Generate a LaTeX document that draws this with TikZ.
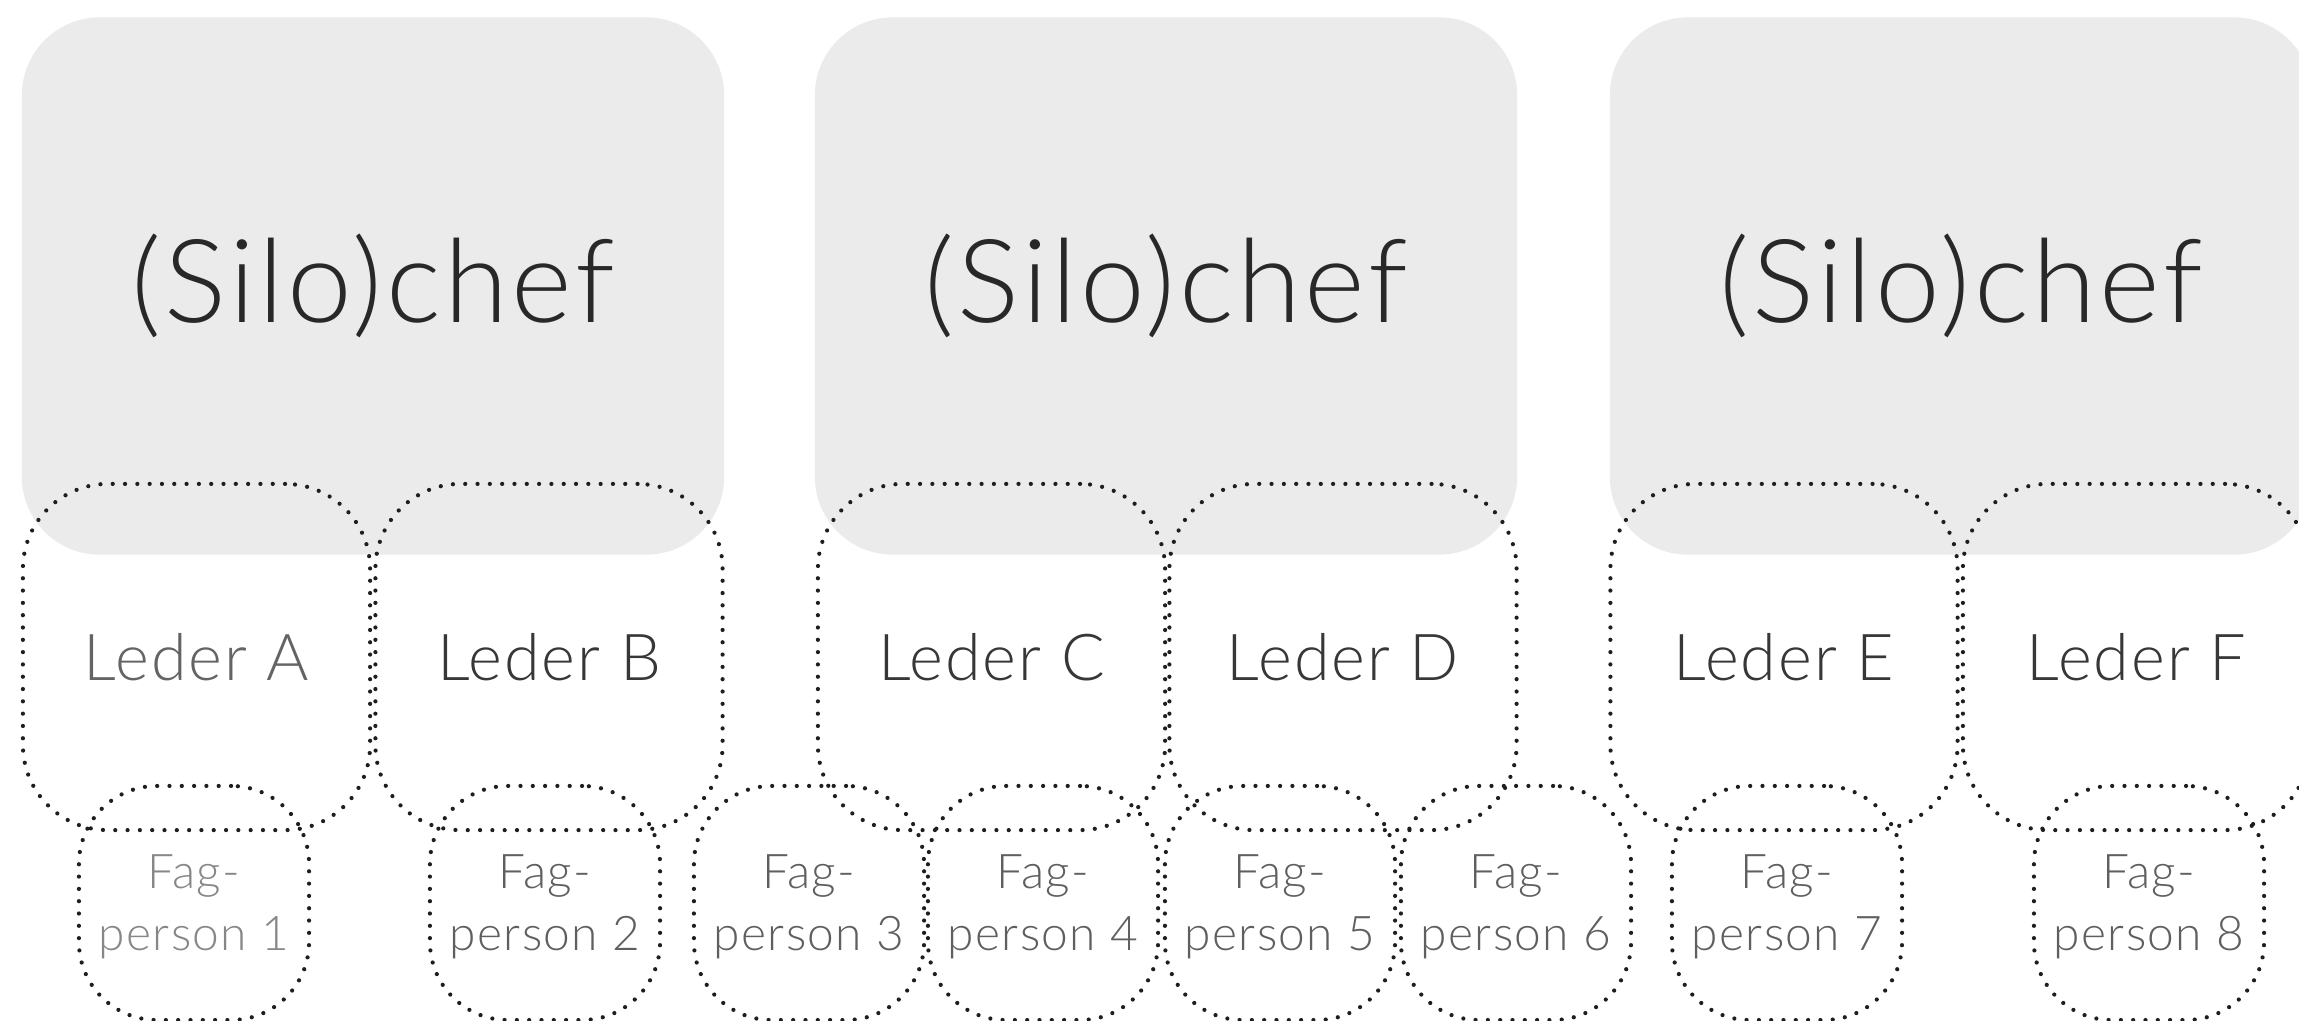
\documentclass[tikz,border=0pt]{standalone}
\usepackage{fontspec}
\setmainfont{Lato Light}
\definecolor{silofill}{RGB}{235,235,235}
\definecolor{dotcol}{RGB}{30,30,30}
\definecolor{chefcol}{RGB}{40,40,40}
\definecolor{ledercol}{RGB}{55,55,55}
\definecolor{ledercolA}{RGB}{100,100,100}
\definecolor{fagcol}{RGB}{95,95,95}
\definecolor{fagcolA}{RGB}{135,135,135}
\begin{document}
\begin{tikzpicture}[x=0.01cm,y=-0.01cm,
  silobox/.style={fill=silofill, rounded corners=0.78cm, minimum width=7.02cm, minimum height=5.37cm, inner sep=0pt, text=chefcol, font=\fontsize{33}{40}\selectfont\addfontfeatures{LetterSpace=3}},
  dots/.style={draw=dotcol, line width=1.2pt, line cap=round, dash pattern=on 0pt off 3.5pt},
  lederbox/.style={dots, rounded corners=0.85cm, minimum width=3.47cm, minimum height=3.46cm, inner sep=0pt, text=ledercol, font=\fontsize{18.4}{22}\selectfont\addfontfeatures{LetterSpace=3}},
  fagbox/.style={dots, rounded corners=0.78cm, minimum width=2.3cm, minimum height=2.34cm, inner sep=0pt, text=fagcol, align=center, text depth=0pt, font=\fontsize{13.6}{17.6}\selectfont\addfontfeatures{LetterSpace=3}}]
\useasboundingbox (0,0) rectangle (2299,1021);
\clip (0,0) rectangle (2299,1021);
% silo chiefs
\node[silobox] (silo1) at (373,286) {(Silo)chef};
\node[silobox] (silo2) at (1166,286) {(Silo)chef};
\node[silobox] (silo3) at (1961,286) {(Silo)chef};
% leaders
\node[lederbox, text=ledercolA] (lederA) at (196.5,657) {Leder A};
\node[lederbox] (lederB) at (549,657) {Leder B};
\node[lederbox] (lederC) at (991.5,657) {Leder C};
\node[lederbox] (lederD) at (1343,657) {Leder D};
\node[lederbox] (lederE) at (1784,657) {Leder E};
\node[lederbox] (lederF) at (2136.5,657) {Leder F};
% specialists
\node[fagbox, text=fagcolA] (fag1) at (194,903) {Fag-\\person 1};
\node[fagbox] (fag2) at (545,903) {Fag-\\person 2};
\node[fagbox] (fag3) at (809,903) {Fag-\\person 3};
\node[fagbox] (fag4) at (1043,903) {Fag-\\person 4};
\node[fagbox] (fag5) at (1280,903) {Fag-\\person 5};
\node[fagbox] (fag6) at (1516,903) {Fag-\\person 6};
\node[fagbox] (fag7) at (1787,903) {Fag-\\person 7};
\node[fagbox] (fag8) at (2149,903) {Fag-\\person 8};
\end{tikzpicture}
\end{document}
